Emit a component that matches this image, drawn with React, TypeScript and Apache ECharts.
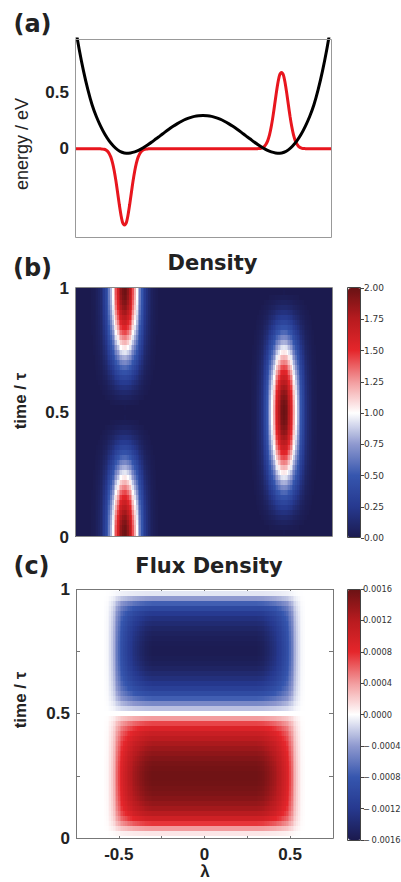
import React, { useEffect, useRef } from "react";
import * as echarts from "echarts";

// ---------- Panel (a): potential and wave packet ----------
const potentialLambda = [
  -0.75, -0.725, -0.7, -0.675, -0.65, -0.625, -0.6, -0.575, -0.55, -0.525,
  -0.5, -0.475, -0.45, -0.425, -0.4, -0.375, -0.35, -0.325, -0.3, -0.275,
  -0.25, -0.225, -0.2, -0.175, -0.15, -0.125, -0.1, -0.075, -0.05, -0.025,
  0,
  0.025, 0.05, 0.075, 0.1, 0.125, 0.15, 0.175, 0.2, 0.225, 0.25,
  0.275, 0.3, 0.325, 0.35, 0.375, 0.4, 0.425, 0.45, 0.475, 0.5,
  0.525, 0.55, 0.575, 0.6, 0.625, 0.65, 0.675, 0.7, 0.725, 0.75,
];
const potentialEnergy = [
  1.092, 0.875, 0.686, 0.525, 0.389, 0.285, 0.2, 0.128, 0.07, 0.025,
  -0.01, -0.031, -0.04, -0.037, -0.028, -0.012, 0.009, 0.033, 0.059, 0.088,
  0.116, 0.145, 0.173, 0.199, 0.222, 0.243, 0.261, 0.275, 0.286, 0.292,
  0.294,
  0.292, 0.286, 0.275, 0.261, 0.243, 0.222, 0.199, 0.173, 0.145, 0.116,
  0.088, 0.059, 0.033, 0.009, -0.012, -0.028, -0.037, -0.04, -0.031, -0.01,
  0.025, 0.07, 0.128, 0.2, 0.285, 0.389, 0.525, 0.686, 0.875, 1.092,
];
const waveLambda = [
  -0.75,
  -0.61, -0.6, -0.59, -0.58, -0.57, -0.56, -0.55, -0.54, -0.53, -0.52,
  -0.51, -0.5, -0.49, -0.48, -0.47, -0.46, -0.45, -0.44, -0.43, -0.42,
  -0.41, -0.4, -0.39, -0.38, -0.37, -0.36, -0.35, -0.34, -0.33, -0.32, -0.31,
  0.31, 0.32, 0.33, 0.34, 0.35, 0.36, 0.37, 0.38, 0.39, 0.4,
  0.41, 0.42, 0.43, 0.44, 0.45, 0.46, 0.47, 0.48, 0.49, 0.5,
  0.51, 0.52, 0.53, 0.54, 0.55, 0.56, 0.57, 0.58, 0.59, 0.6, 0.61,
  0.75,
];
const waveEnergy = [
  0,
  0, -0.001, -0.002, -0.005, -0.01, -0.021, -0.041, -0.074, -0.124, -0.196,
  -0.286, -0.391, -0.498, -0.592, -0.657, -0.675, -0.657, -0.592, -0.498, -0.391,
  -0.286, -0.196, -0.124, -0.074, -0.041, -0.021, -0.01, -0.005, -0.002, -0.001, 0,
  0, 0.001, 0.002, 0.005, 0.01, 0.021, 0.041, 0.074, 0.124, 0.196,
  0.286, 0.391, 0.498, 0.592, 0.657, 0.675, 0.657, 0.592, 0.498, 0.391,
  0.286, 0.196, 0.124, 0.074, 0.041, 0.021, 0.01, 0.005, 0.002, 0.001, 0,
  0,
];
const energyTickLabels = [0, 0.5];

// ---------- Shared grids for panels (b) and (c) ----------
const LAMBDA_MIN = -0.75;
const LAMBDA_STEP = 0.01;
const LAMBDA_COUNT = 151; // -0.75 .. 0.75
const TIME_STEP = 0.02;
const TIME_COUNT = 51; // 0 .. 1

// ---------- Panel (b): density ----------
const densityLeftCenter = -0.46;
const densityRightCenter = 0.47;
// amplitude of each packet versus time (t = 0, 0.02, ..., 1)
const densityLeftAmplitude = [
  2.0, 1.99, 1.97, 1.93, 1.88, 1.81, 1.73, 1.64, 1.54, 1.43,
  1.31, 1.19, 1.06, 0.94, 0.81, 0.69, 0.57, 0.46, 0.36, 0.27,
  0.19, 0.12, 0.07, 0.03, 0.01, 0.0, 0.01, 0.03, 0.07, 0.12,
  0.19, 0.27, 0.36, 0.46, 0.57, 0.69, 0.81, 0.94, 1.06, 1.19,
  1.31, 1.43, 1.54, 1.64, 1.73, 1.81, 1.88, 1.93, 1.97, 1.99, 2.0,
];
const densityRightAmplitude = [
  0.0, 0.01, 0.03, 0.07, 0.12, 0.19, 0.27, 0.36, 0.46, 0.57,
  0.69, 0.81, 0.94, 1.06, 1.19, 1.31, 1.43, 1.54, 1.64, 1.73,
  1.81, 1.88, 1.93, 1.97, 1.99, 2.0, 1.99, 1.97, 1.93, 1.88,
  1.81, 1.73, 1.64, 1.54, 1.43, 1.31, 1.19, 1.06, 0.94, 0.81,
  0.69, 0.57, 0.46, 0.36, 0.27, 0.19, 0.12, 0.07, 0.03, 0.01, 0.0,
];
// packet shape across lambda, offsets -0.20 .. 0.20 in steps of 0.01
const densityLambdaProfile = [
  0.004, 0.007, 0.011, 0.018, 0.029, 0.044, 0.066, 0.096, 0.135, 0.186,
  0.249, 0.325, 0.411, 0.506, 0.607, 0.707, 0.801, 0.882, 0.946, 0.986,
  1.0,
  0.986, 0.946, 0.882, 0.801, 0.707, 0.607, 0.506, 0.411, 0.325, 0.249,
  0.186, 0.135, 0.096, 0.066, 0.044, 0.029, 0.018, 0.011, 0.007, 0.004,
];
const densityColorTicks = [0, 0.25, 0.5, 0.75, 1, 1.25, 1.5, 1.75, 2];

// ---------- Panel (c): flux density ----------
// time profile (t = 0, 0.02, ..., 1)
const fluxTimeProfile = [
  0, 0.0001, 0.0004, 0.00075, 0.001, 0.00118, 0.0013, 0.00138, 0.00145, 0.0015,
  0.00153, 0.00156, 0.00157, 0.00157, 0.00155, 0.00152, 0.00147, 0.00141, 0.00134, 0.00126,
  0.00116, 0.00105, 0.0009, 0.0007, 0.0004, 0,
  -0.00025, -0.0005, -0.00075, -0.00095, -0.0011, -0.00122, -0.00132, -0.0014, -0.00147, -0.00152,
  -0.00155, -0.00157, -0.00157, -0.00156, -0.00153, -0.0015, -0.00145, -0.00138, -0.0013, -0.00118,
  -0.001, -0.00075, -0.0004, -0.0001, 0,
];
// lambda profile, lambda = -0.60 .. 0.60 in steps of 0.01
const fluxLambdaStart = -0.6;
const fluxLambdaProfile = [
  0, 0, 0.01, 0.02, 0.04, 0.08, 0.13, 0.2, 0.28, 0.37,
  0.45, 0.52, 0.58, 0.63, 0.67, 0.71, 0.74, 0.77, 0.8, 0.83,
  0.855, 0.88, 0.9, 0.92, 0.94, 0.955, 0.97, 0.98, 0.99, 0.995,
  1, 1, 1, 1, 1, 1, 1, 1, 1, 1,
  1, 1, 1, 1, 1, 1, 1, 1, 1, 1,
  1, 1, 1, 1, 1, 1, 1, 1, 1, 1,
  1, 1, 1, 1, 1, 1, 1, 1, 1, 1,
  1, 1, 1, 1, 1, 1, 1, 1, 1, 1,
  1, 1, 1, 1, 1, 1, 1, 1, 1, 1,
  1, 0.995, 0.99, 0.98, 0.97, 0.955, 0.94, 0.92, 0.9, 0.88,
  0.855, 0.83, 0.8, 0.77, 0.74, 0.71, 0.67, 0.63, 0.58, 0.52,
  0.45, 0.37, 0.28, 0.2, 0.13, 0.08, 0.04, 0.02, 0.01, 0, 0,
];
const fluxColorTicks = [-0.0016, -0.0012, -0.0008, -0.0004, 0, 0.0004, 0.0008, 0.0012, 0.0016];
const fluxColorLabels = [
  "\u2212\u20090.0016", "\u2212\u20090.0012", "\u2212\u20090.0008", "\u2212\u20090.0004", "0.0000",
  "0.0004", "0.0008", "0.0012", "0.0016",
];

const colormap = [
  "#1b1a4e", "#26398f", "#3656ae", "#8f99cf", "#ffffff",
  "#f29c9e", "#e5262b", "#b71b1f", "#6a1214",
];

const r2 = (v: number) => Math.round(v * 100) / 100;
const near = (a: number, b: number) => Math.abs(a - b) < 1e-7;

function buildDensity() {
  const out: number[][] = [];
  const iL = Math.round((densityLeftCenter - LAMBDA_MIN) / LAMBDA_STEP);
  const iR = Math.round((densityRightCenter - LAMBDA_MIN) / LAMBDA_STEP);
  const n = densityLambdaProfile.length;
  const half = (n - 1) / 2;
  for (let k = 0; k < TIME_COUNT; k++) {
    const t = r2(k * TIME_STEP);
    for (let i = 0; i < LAMBDA_COUNT; i++) {
      const lam = r2(LAMBDA_MIN + i * LAMBDA_STEP);
      const jL = i - iL + half;
      const jR = i - iR + half;
      const gL = jL >= 0 && jL < n ? densityLambdaProfile[jL] : 0;
      const gR = jR >= 0 && jR < n ? densityLambdaProfile[jR] : 0;
      const v = densityLeftAmplitude[k] * gL + densityRightAmplitude[k] * gR;
      if (v >= 0.01) out.push([lam, t, Math.min(v, 2)]);
    }
  }
  return out;
}

function buildFlux() {
  const out: number[][] = [];
  const i0 = Math.round((fluxLambdaStart - LAMBDA_MIN) / LAMBDA_STEP);
  for (let k = 0; k < TIME_COUNT; k++) {
    const t = r2(k * TIME_STEP);
    for (let i = 0; i < LAMBDA_COUNT; i++) {
      const m = i - i0;
      if (m < 0 || m >= fluxLambdaProfile.length) continue;
      const v = fluxTimeProfile[k] * fluxLambdaProfile[m];
      if (Math.abs(v) > 1e-6) out.push([r2(LAMBDA_MIN + i * LAMBDA_STEP), t, Math.max(-0.0016, Math.min(0.0016, v))]);
    }
  }
  return out;
}

function cellRenderer(params: any, api: any) {
  const lam = api.value(0);
  const t = api.value(1);
  const p0 = api.coord([lam - LAMBDA_STEP / 2, t + TIME_STEP / 2]);
  const p1 = api.coord([lam + LAMBDA_STEP / 2, t - TIME_STEP / 2]);
  const cs = params.coordSys;
  const x0 = Math.round(Math.max(p0[0], cs.x));
  const y0 = Math.round(Math.max(p0[1], cs.y));
  const x1 = Math.round(Math.min(p1[0], cs.x + cs.width));
  const y1 = Math.round(Math.min(p1[1], cs.y + cs.height));
  if (x1 <= x0 || y1 <= y0) return null;
  return {
    type: "rect",
    shape: { x: x0, y: y0, width: x1 - x0, height: y1 - y0 },
    style: { fill: api.visual("color") },
  };
}

const tickFont = { fontFamily: "Liberation Sans", fontWeight: "bold" as const, fontSize: 17, color: "#222" };
const cbFont = { fontFamily: "DejaVu Sans", fontSize: 9, color: "#333" };
const noLine = { show: false, onZero: false };

export default function App() {
  const ref = useRef<HTMLDivElement>(null);
  useEffect(() => {
    if (!ref.current) return;
    const chart = echarts.init(ref.current, undefined, { renderer: "svg" });

    const potential = potentialLambda.map((l, i) => [l, potentialEnergy[i]]);
    const wave = waveLambda.map((l, i) => [l, waveEnergy[i]]);

    const hiddenX = (gridIndex: number, min: number, max: number) => ({
      type: "value", gridIndex, min, max,
      axisLine: noLine, axisTick: { show: false }, axisLabel: { show: false }, splitLine: { show: false },
    });

    const option: any = {
      animation: false,
      grid: [
        { left: 75, top: 39, width: 256, height: 198 },
        { left: 75, top: 288, width: 257, height: 249, show: true, backgroundColor: colormap[0], borderWidth: 0 },
        { left: 348, top: 288, width: 13, height: 250 },
        { left: 76, top: 589, width: 257, height: 249 },
        { left: 348, top: 589, width: 13, height: 251, outerBoundsMode: "none" },
      ],
      xAxis: [
        hiddenX(0, -0.75, 0.75),
        hiddenX(1, -0.75, 0.75),
        hiddenX(2, 0, 1),
        {
          type: "value", gridIndex: 3, min: -0.75, max: 0.75, interval: 0.25,
          axisLine: noLine,
          axisTick: { show: true, inside: true, length: 4, lineStyle: { color: "#777" } },
          splitLine: { show: false },
          axisLabel: {
            ...tickFont, margin: 8,
            formatter: (v: any) => {
              const n = Number(v);
              return near(Math.abs(n), 0.5) || near(n, 0) ? String(Math.round(n * 10) / 10) : "";
            },
          },
        },
        {
          type: "value", gridIndex: 3, position: "top", min: -0.75, max: 0.75, interval: 0.25,
          axisLine: noLine,
          axisTick: { show: true, inside: true, length: 4, lineStyle: { color: "#777" } },
          splitLine: { show: false }, axisLabel: { show: false },
        },
        hiddenX(4, 0, 1),
      ],
      yAxis: [
        {
          type: "value", gridIndex: 0, min: -0.78, max: 0.97, interval: 0.02,
          axisLine: noLine, axisTick: { show: false }, splitLine: { show: false },
          axisLabel: {
            ...tickFont, margin: 6, showMinLabel: false, showMaxLabel: false,
            formatter: (v: any) => {
              const n = Number(v);
              const hit = energyTickLabels.find((e) => near(e, n));
              return hit === undefined ? "" : String(hit);
            },
          },
        },
        {
          type: "value", gridIndex: 1, min: 0, max: 1, interval: 0.5,
          axisLine: noLine, axisTick: { show: false }, splitLine: { show: false },
          axisLabel: { ...tickFont, margin: 6 },
        },
        {
          type: "value", gridIndex: 2, position: "right", min: 0, max: 2, interval: 0.25,
          axisLine: noLine, splitLine: { show: false },
          axisTick: { show: true, length: 3, lineStyle: { color: "#444" } },
          axisLabel: {
            ...cbFont, margin: 3,
            formatter: (v: any) => {
              const n = Number(v);
              const hit = densityColorTicks.find((e) => near(e, n));
              return hit === undefined ? "" : hit.toFixed(2);
            },
          },
        },
        {
          type: "value", gridIndex: 3, min: 0, max: 1, interval: 0.25,
          axisLine: noLine, splitLine: { show: false },
          axisTick: { show: true, inside: true, length: 4, lineStyle: { color: "#777" } },
          axisLabel: {
            ...tickFont, margin: 6,
            formatter: (v: any) => {
              const n = Number(v);
              return near(n, 0.25) || near(n, 0.75) ? "" : String(n);
            },
          },
        },
        {
          type: "value", gridIndex: 3, position: "right", min: 0, max: 1, interval: 0.25,
          axisLine: noLine, splitLine: { show: false },
          axisTick: { show: true, inside: true, length: 4, lineStyle: { color: "#777" } },
          axisLabel: { show: false },
        },
        {
          type: "value", gridIndex: 4, position: "right", min: -0.0016, max: 0.0016, interval: 0.0004,
          axisLine: noLine, splitLine: { show: false },
          axisTick: { show: true, length: 3, lineStyle: { color: "#444" } },
          axisLabel: {
            ...cbFont, fontSize: 8.3, margin: 2, overflow: "none", hideOverlap: false,
            formatter: (v: any, idx: number) => {
              const n = Number(v);
              let best = 0;
              for (let i = 1; i < fluxColorTicks.length; i++) {
                if (Math.abs(fluxColorTicks[i] - n) < Math.abs(fluxColorTicks[best] - n)) best = i;
              }
              if (Number.isFinite(n)) return fluxColorLabels[best];
              return fluxColorLabels[idx] ?? "";
            },
          },
        },
      ],
      visualMap: [
        {
          type: "continuous", seriesIndex: 2, dimension: 2, min: 0, max: 2,
          inRange: { color: colormap }, calculable: false, hoverLink: false,
          left: 348, top: 288, itemWidth: 13, itemHeight: 250, padding: 0, text: null,
        },
        {
          type: "continuous", seriesIndex: 3, dimension: 2, min: -0.0016, max: 0.0016,
          inRange: { color: colormap }, calculable: false, hoverLink: false,
          left: 348, top: 589, itemWidth: 13, itemHeight: 251, padding: 0, text: null,
        },
      ],
      series: [
        {
          type: "line", xAxisIndex: 0, yAxisIndex: 0, data: wave, showSymbol: false, smooth: 0.2,
          lineStyle: { color: "#e8161e", width: 3 }, clip: true, silent: true, z: 3,
        },
        {
          type: "line", xAxisIndex: 0, yAxisIndex: 0, data: potential, showSymbol: false, smooth: 0.3,
          lineStyle: { color: "#000000", width: 3 }, clip: true, silent: true, z: 4,
        },
        {
          type: "custom", xAxisIndex: 1, yAxisIndex: 1, data: buildDensity(), renderItem: cellRenderer,
          encode: { x: 0, y: 1 }, silent: true,
        },
        {
          type: "custom", xAxisIndex: 3, yAxisIndex: 3, data: buildFlux(), renderItem: cellRenderer,
          encode: { x: 0, y: 1 }, silent: true,
        },
      ],
      graphic: [
        { type: "rect", z: 100, shape: { x: 75.5, y: 39.5, width: 256, height: 198 }, style: { fill: "none", stroke: "#999", lineWidth: 1 } },
        { type: "rect", z: 100, shape: { x: 75.5, y: 287.5, width: 257, height: 249 }, style: { fill: "none", stroke: "#888", lineWidth: 1 } },
        { type: "rect", z: 100, shape: { x: 76.5, y: 589.5, width: 257, height: 249 }, style: { fill: "none", stroke: "#777", lineWidth: 1 } },
        { type: "rect", z: 100, shape: { x: 347.5, y: 287.5, width: 13, height: 250 }, style: { fill: "none", stroke: "#444", lineWidth: 1 } },
        { type: "rect", z: 100, shape: { x: 347.5, y: 589.5, width: 13, height: 251 }, style: { fill: "none", stroke: "#444", lineWidth: 1 } },
        { type: "text", x: 32.5, y: 24, style: { text: "(a)", font: 'bold 24px "DejaVu Sans"', fill: "#222", align: "center", verticalAlign: "middle" } },
        { type: "text", x: 32.5, y: 268, style: { text: "(b)", font: 'bold 24px "DejaVu Sans"', fill: "#222", align: "center", verticalAlign: "middle" } },
        { type: "text", x: 31.5, y: 566, style: { text: "(c)", font: 'bold 24px "DejaVu Sans"', fill: "#222", align: "center", verticalAlign: "middle" } },
        { type: "text", x: 212.5, y: 263, style: { text: "Density", font: 'bold 21px "DejaVu Sans"', fill: "#222", align: "center", verticalAlign: "middle" } },
        { type: "text", x: 209, y: 566, style: { text: "Flux Density", font: 'bold 21px "DejaVu Sans"', fill: "#222", align: "center", verticalAlign: "middle" } },
        { type: "text", x: 21.5, y: 144, rotation: Math.PI / 2, style: { text: "energy / eV", font: '18px "Liberation Sans"', fill: "#222", align: "center", verticalAlign: "middle" } },
        { type: "text", x: 20.5, y: 401, rotation: Math.PI / 2, style: { text: "time / τ", font: 'bold 17px "Liberation Sans"', fill: "#222", align: "center", verticalAlign: "middle" } },
        { type: "text", x: 20.5, y: 700, rotation: Math.PI / 2, style: { text: "time / τ", font: 'bold 17px "Liberation Sans"', fill: "#222", align: "center", verticalAlign: "middle" } },
        { type: "text", x: 205, y: 880, style: { text: "λ", font: 'bold 17px "Liberation Sans"', fill: "#222", align: "center", verticalAlign: "bottom" } },
      ],
    };
    chart.setOption(option);
    return () => chart.dispose();
  }, []);
  return <div ref={ref} style={{ position: "absolute", left: 0, top: 0, width: 401, height: 882 }} />;
}
